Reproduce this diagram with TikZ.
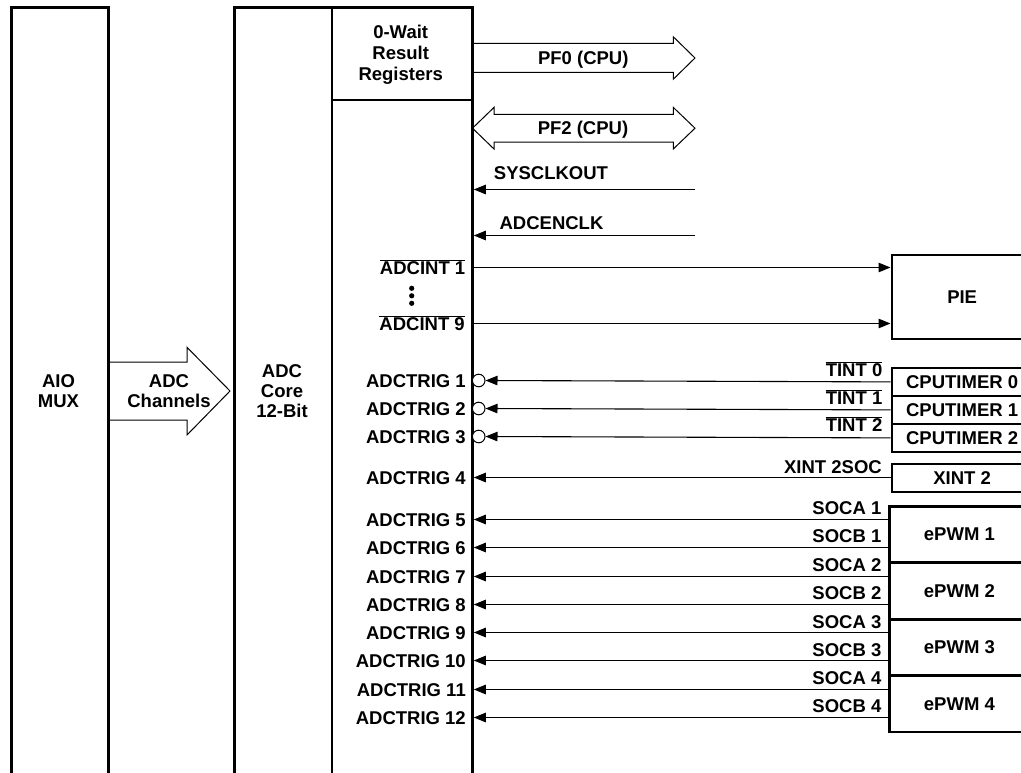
\documentclass[tikz,border=0pt]{standalone}
\usepackage{fontspec}
\setmainfont{Liberation Sans}
\usetikzlibrary{arrows.meta,calc}
\begin{document}
\begin{tikzpicture}[x=1bp,y=-1bp,
  font=\bfseries\fontsize{18.5bp}{20bp}\selectfont,
  box/.style={draw, line width=2.8bp, inner sep=0pt, anchor=north west},
  thinline/.style={line width=1.1bp},
  arr/.style={thinline, -{Triangle[length=12bp,width=9.5bp]}},
  lab/.style={inner sep=0pt, text height=13.3bp, text depth=0pt},
  bigarrow/.style={line width=1bp, line join=miter},
  circ/.style={draw, circle, line width=1bp, minimum size=12.6bp, inner sep=0pt, fill=white},
  dotn/.style={fill, circle, minimum size=5.2bp, inner sep=0pt}
]
\useasboundingbox (0,0) rectangle (1021,773);
\clip (0,0) rectangle (1021,773);

% ---- big arrows (drawn first) ----
\draw[bigarrow] (107,362) -- (187,362) -- (187,347.3) -- (230,391) -- (187,435) -- (187,420) -- (107,420);
\draw[bigarrow] (471,43.5) -- (673.3,43.5) -- (673.3,36.8) -- (695,58) -- (673.3,79.2) -- (673.3,72.5) -- (471,72.5);
\draw[bigarrow] (472.5,128.2) -- (494,107.4) -- (494,114.4) -- (673.3,114.4) -- (673.3,107.4) -- (695,128.2)
   -- (673.3,149) -- (673.3,142) -- (494,142) -- (494,149) -- cycle;

% ---- main boxes ----
\node[box, minimum width=97bp, minimum height=820bp] (aio) at (10,6.5) {};
\node[box, minimum width=97.5bp, minimum height=820bp] (core) at (233,6.5) {};
\node[box, minimum width=140.5bp, minimum height=92bp] (res) at (330.5,6.5) {};
\node[box, minimum width=140.5bp, minimum height=820bp] (ctl) at (330.5,98.5) {};

\node[align=center, inner sep=0pt] (aiot) at (58.5,391.5) {AIO\\MUX};
\node[align=center, inner sep=0pt] (cht) at (169,391.5) {ADC\\Channels};
\node[align=center, inner sep=0pt] (coret) at (282,391.5) {ADC\\Core\\12-Bit};
\node[align=center, inner sep=0pt, anchor=north, font=\bfseries\fontsize{18.5bp}{20.8bp}\selectfont] (rest) at (400.7,25) {0-Wait\\Result\\Registers};

\node[lab] (pf0) at (583.3,58) {PF0 (CPU)};
\node[lab] (pf2) at (583,127.5) {PF2 (CPU)};

% ---- clocks ----
\node[lab] (sys) at (551,172.7) {SYSCLKOUT};
\node[lab] (enc) at (551.5,222.7) {ADCENCLK};
\coordinate (sysin) at (695,189.5);
\coordinate (encin) at (695,235.5);
\draw[arr] (sysin) -- (ctl.east |- sysin);
\draw[arr] (encin) -- (ctl.east |- encin);

% ---- right boxes ----
\node[box, minimum width=140.5bp, minimum height=84bp] (pie) at (890.5,253.5) {PIE};
\node[box, minimum width=140.5bp, minimum height=28bp] (ct0) at (890.5,366.5) {CPUTIMER 0};
\node[box, minimum width=140.5bp, minimum height=28bp] (ct1) at (890.5,394.5) {CPUTIMER 1};
\node[box, minimum width=140.5bp, minimum height=28bp] (ct2) at (890.5,422.5) {CPUTIMER 2};
\node[box, minimum width=140.5bp, minimum height=28bp] (xint) at (890.5,462.5) {XINT 2};
\node[box, minimum width=140bp, minimum height=56.4bp] (pwm1) at (888,505) {ePWM 1};
\node[box, minimum width=140bp, minimum height=56.4bp] (pwm2) at (888,561.4) {ePWM 2};
\node[box, minimum width=140bp, minimum height=56.4bp] (pwm3) at (888,617.8) {ePWM 3};
\node[box, minimum width=140bp, minimum height=56.4bp] (pwm4) at (888,674.2) {ePWM 4};

% ---- interrupts ----
\node[lab, anchor=east] (ai1) at (465.5,267.5) {$\overline{\mbox{ADCINT 1}}$};
\node[lab, anchor=east] (ai9) at (465,323.5) {$\overline{\mbox{ADCINT 9}}$};
\node[dotn] (d1) at (411.7,288.3) {};
\node[dotn] (d2) at (411.7,295.8) {};
\node[dotn] (d3) at (411.7,303.3) {};
\draw[arr] (ctl.east |- ai1) -- (pie.west |- ai1);
\draw[arr] (ctl.east |- ai9) -- (pie.west |- ai9);

% ---- timer triggers ----
\node[lab, anchor=east] (t1) at (466,380.5) {ADCTRIG 1};
\node[lab, anchor=east] (t2) at (466,408.5) {ADCTRIG 2};
\node[lab, anchor=east] (t3) at (466,436.5) {ADCTRIG 3};
\node[circ] (c1) at (478.7,380.5) {};
\node[circ] (c2) at (478.7,408.5) {};
\node[circ] (c3) at (478.7,436.5) {};
\draw[arr] (ct0.west) -- (c1.east);
\draw[arr] (ct1.west) -- (c2.east);
\draw[arr] (ct2.west) -- (c3.east);
\node[lab, anchor=east] (ti0) at (882.5,370) {$\overline{\mbox{TINT 0}}$};
\node[lab, anchor=east] (ti1) at (882.5,397.5) {$\overline{\mbox{TINT 1}}$};
\node[lab, anchor=east] (ti2) at (882.5,425) {$\overline{\mbox{TINT 2}}$};

% ---- XINT ----
\node[lab, anchor=east] (t4) at (466,477.5) {ADCTRIG 4};
\draw[arr] (xint.west |- t4) -- (ctl.east |- t4);
\node[lab, anchor=east] (xs) at (882,466.7) {XINT 2SOC};

% ---- ePWM triggers ----
\node[lab, anchor=east] (t5) at (466,519.5) {ADCTRIG 5};
\node[lab, anchor=east] (t6) at (466,547.5) {ADCTRIG 6};
\node[lab, anchor=east] (t7) at (466,576.5) {ADCTRIG 7};
\node[lab, anchor=east] (t8) at (466,604.5) {ADCTRIG 8};
\node[lab, anchor=east] (t9) at (466,632.5) {ADCTRIG 9};
\node[lab, anchor=east] (t10) at (466,660.5) {ADCTRIG 10};
\node[lab, anchor=east] (t11) at (466,689.5) {ADCTRIG 11};
\node[lab, anchor=east] (t12) at (466,717.5) {ADCTRIG 12};
\draw[arr] (pwm1.west |- t5) -- (ctl.east |- t5);
\draw[arr] (pwm1.west |- t6) -- (ctl.east |- t6);
\draw[arr] (pwm2.west |- t7) -- (ctl.east |- t7);
\draw[arr] (pwm2.west |- t8) -- (ctl.east |- t8);
\draw[arr] (pwm3.west |- t9) -- (ctl.east |- t9);
\draw[arr] (pwm3.west |- t10) -- (ctl.east |- t10);
\draw[arr] (pwm4.west |- t11) -- (ctl.east |- t11);
\draw[arr] (pwm4.west |- t12) -- (ctl.east |- t12);
\node[lab, anchor=east] (sa1) at (881.5,508) {SOCA 1};
\node[lab, anchor=east] (sb1) at (881.5,535.7) {SOCB 1};
\node[lab, anchor=east] (sa2) at (881.5,564.7) {SOCA 2};
\node[lab, anchor=east] (sb2) at (881.5,592.7) {SOCB 2};
\node[lab, anchor=east] (sa3) at (881.5,621.4) {SOCA 3};
\node[lab, anchor=east] (sb3) at (881.5,649.4) {SOCB 3};
\node[lab, anchor=east] (sa4) at (881.5,678) {SOCA 4};
\node[lab, anchor=east] (sb4) at (881.5,706) {SOCB 4};
\end{tikzpicture}
\end{document}
